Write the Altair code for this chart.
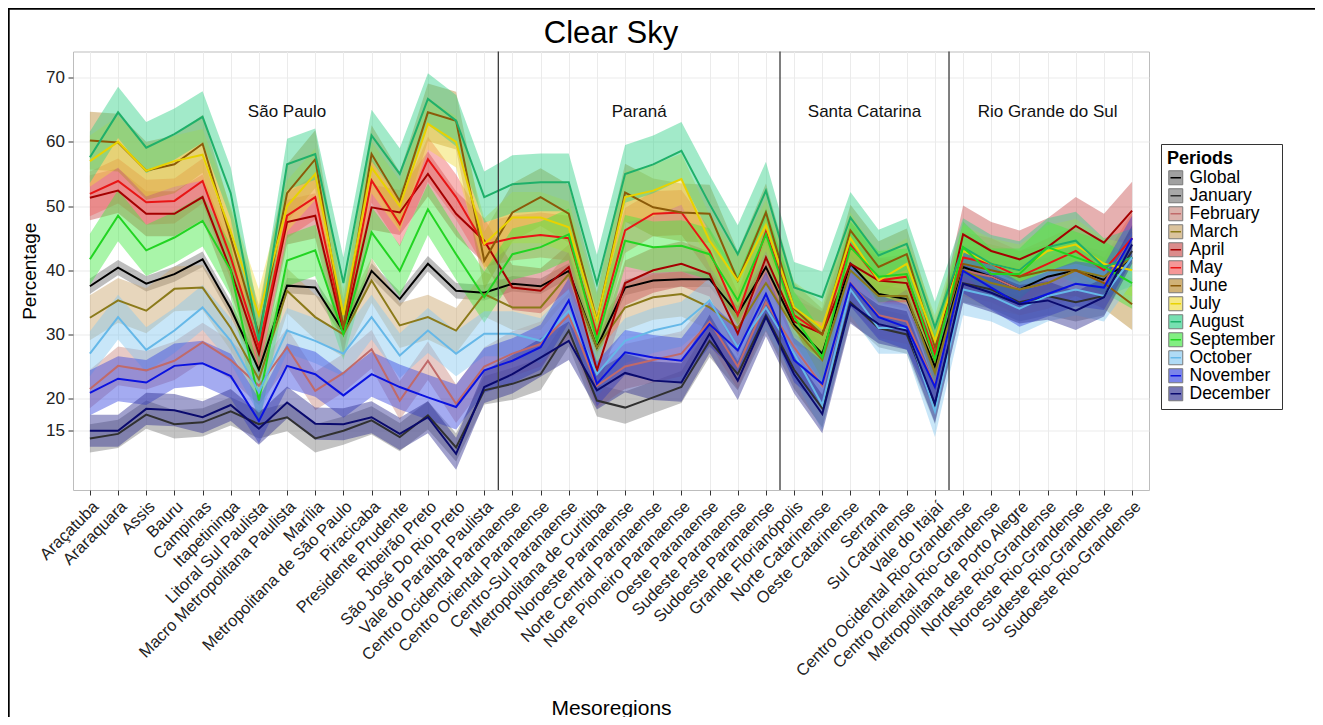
import json
import altair as alt
import pandas as pd

FONT = "Liberation Sans"

mesoregions = [
    "Araçatuba", "Araraquara", "Assis", "Bauru", "Campinas", "Itapetininga",
    "Litoral Sul Paulista", "Macro Metropolitana Paulista", "Marília",
    "Metropolitana de São Paulo", "Piracicaba", "Presidente Prudente",
    "Ribeirão Preto", "São José Do Rio Preto", "Vale do Paraíba Paulista",
    "Centro Ocidental Paranaense", "Centro Oriental Paranaense", "Centro-Sul Paranaense",
    "Metropolitana de Curitiba", "Noroeste Paranaense", "Norte Central Paranaense",
    "Norte Pioneiro Paranaense", "Oeste Paranaense", "Sudeste Paranaense", "Sudoeste Paranaense",
    "Grande Florianópolis", "Norte Catarinense", "Oeste Catarinense", "Serrana",
    "Sul Catarinense", "Vale do Itajaí",
    "Centro Ocidental Rio-Grandense", "Centro Oriental Rio-Grandense",
    "Metropolitana de Porto Alegre", "Nordeste Rio-Grandense", "Noroeste Rio-Grandense",
    "Sudeste Rio-Grandense", "Sudoeste Rio-Grandense",
]

chart_title = "Clear Sky"
state_names = ["São Paulo", "Paraná", "Santa Catarina", "Rio Grande do Sul"]
state_sizes = [15, 10, 6, 7]
state_label_x = [7.0, 19.5, 27.5, 34.0]
state_label_y = [64.7, 64.7, 64.7, 64.7]
state_bounds = [14.5, 24.5, 30.5]
y_ticks = [15, 20, 30, 40, 50, 60, 70]

periods = ["Global", "January", "February", "March", "April", "May", "June",
           "July", "August", "September", "October", "November", "December"]
line_colors = ["#000000", "#303030", "#C06A6A", "#8B7A1A", "#A50000", "#E81515", "#8B5A08",
               "#E8D200", "#1FB06A", "#22D422", "#66B8E8", "#0A12E0", "#0A0A6E"]
fill_colors = ["#6E6E6E", "#7A7A7A", "#C98A80", "#C9A46A", "#C85050", "#F06060", "#B88A30",
               "#F0DC40", "#30D088", "#40E840", "#86C8F0", "#3545E0", "#2E2E90"]

global_ = [37.5, 40.4, 37.9, 39.4, 41.7, 34.0, 24.5, 37.6, 37.3, 30.5, 39.9, 35.5, 41.0, 36.8, 36.5,
           37.9, 37.5, 39.9, 28.0, 37.3, 38.4, 38.6, 38.6, 33.2, 40.5,
           31.5, 27.0, 41.0, 36.3, 35.5, 25.0,
           40.5, 39.0, 37.0, 39.0, 40.0, 38.5, 42.0]
january = [13.8, 14.5, 17.5, 16.0, 16.3, 18.0, 16.0, 17.1, 13.8, 15.0, 16.6, 14.0, 17.4, 12.4, 21.3,
           22.3, 23.8, 30.6, 19.7, 18.6, 20.2, 21.8, 29.0, 23.8, 33.0,
           24.5, 18.5, 35.0, 31.0, 30.0, 19.0,
           38.0, 37.0, 35.0, 36.0, 35.0, 36.0, 43.0]
february = [21.5, 25.1, 24.4, 25.9, 28.8, 26.0, 22.0, 28.0, 21.2, 24.0, 27.7, 19.7, 25.9, 19.2, 25.0,
            27.0, 28.5, 33.0, 22.0, 25.0, 26.0, 27.0, 32.0, 25.0, 35.0,
            28.0, 22.0, 38.0, 33.0, 32.0, 22.0,
            40.0, 39.0, 37.0, 38.0, 40.0, 38.0, 45.0]
march = [32.6, 35.3, 33.7, 37.1, 37.3, 31.0, 23.0, 36.8, 32.7, 30.0, 38.4, 31.4, 32.7, 30.6, 36.3,
         34.2, 34.2, 39.4, 28.0, 34.2, 35.8, 36.3, 34.2, 31.0, 38.0,
         31.0, 26.0, 40.0, 36.0, 36.0, 24.0,
         40.0, 38.0, 37.0, 38.0, 40.0, 39.0, 42.0]
april = [51.3, 52.4, 48.8, 48.8, 51.4, 40.0, 27.0, 47.5, 48.5, 30.5, 49.8, 49.0, 55.0, 48.8, 44.6,
         37.3, 36.8, 40.5, 24.4, 38.0, 40.0, 41.0, 39.4, 30.1, 42.0,
         32.0, 30.1, 41.0, 38.4, 38.0, 26.0,
         45.6, 43.0, 41.7, 43.6, 46.9, 44.3, 49.3]
may = [51.9, 53.9, 50.6, 50.8, 53.9, 42.0, 28.0, 48.5, 51.4, 31.0, 54.0, 47.2, 57.3, 51.4, 44.0,
       45.0, 45.5, 45.0, 30.0, 46.2, 48.8, 49.0, 43.0, 33.0, 46.0,
       33.0, 30.0, 44.0, 38.4, 39.0, 27.0,
       42.0, 41.0, 39.0, 41.0, 43.0, 40.0, 45.0]
june = [60.2, 59.9, 55.5, 56.5, 59.7, 45.0, 30.0, 52.0, 57.3, 31.0, 58.1, 50.8, 64.6, 63.3, 41.5,
        49.0, 51.4, 48.8, 32.1, 52.1, 49.8, 49.0, 48.8, 38.4, 49.0,
        34.0, 30.0, 46.2, 40.5, 42.5, 28.0,
        41.0, 40.0, 39.0, 40.0, 40.0, 38.0, 34.7]
july = [57.0, 60.0, 55.5, 57.0, 58.0, 46.0, 33.0, 50.0, 55.0, 33.0, 56.0, 50.0, 62.8, 60.0, 44.1,
        48.2, 48.2, 46.7, 32.1, 51.4, 52.4, 54.2, 44.6, 38.4, 47.0,
        34.2, 31.0, 45.0, 38.4, 41.0, 29.0,
        43.0, 41.0, 40.0, 43.0, 44.0, 41.0, 40.0]
august = [57.6, 64.6, 59.1, 61.2, 63.9, 52.0, 29.0, 56.5, 58.1, 38.0, 61.0, 55.0, 66.7, 63.3, 51.4,
          53.4, 53.7, 53.7, 37.9, 55.0, 56.5, 58.6, 50.3, 42.5, 52.4,
          37.3, 35.8, 48.2, 42.3, 44.1, 31.1,
          43.6, 41.0, 40.0, 43.6, 44.6, 40.5, 42.0]
september = [41.7, 48.5, 43.1, 45.1, 47.7, 40.0, 19.7, 41.5, 43.1, 30.0, 45.9, 39.9, 49.5, 42.5, 35.8,
             42.5, 43.6, 45.6, 29.0, 44.6, 43.6, 43.8, 42.5, 35.3, 45.6,
             32.7, 26.4, 43.6, 39.0, 39.4, 26.0,
             43.6, 39.4, 39.4, 43.6, 42.0, 40.5, 38.0]
october = [27.0, 32.7, 27.6, 30.6, 34.2, 29.0, 21.0, 30.6, 29.0, 27.0, 32.7, 26.7, 30.6, 27.0, 30.1,
           30.1, 29.0, 33.7, 23.8, 29.0, 30.6, 31.6, 35.3, 28.0, 34.2,
           27.0, 19.0, 37.0, 31.0, 31.0, 18.0,
           37.0, 36.0, 34.0, 36.0, 37.0, 36.0, 42.0]
november = [20.9, 23.1, 22.5, 25.1, 25.5, 23.5, 16.5, 25.1, 23.8, 20.5, 23.8, 21.8, 20.2, 18.7, 24.4,
            25.9, 28.0, 35.3, 22.3, 27.2, 26.4, 25.9, 31.6, 27.5, 36.3,
            26.0, 22.3, 37.9, 32.7, 31.1, 21.8,
            39.9, 37.3, 34.7, 36.3, 37.9, 37.3, 45.0]
december = [15.0, 15.0, 18.4, 18.2, 17.1, 19.0, 15.3, 19.4, 16.1, 16.0, 17.1, 14.5, 17.1, 11.4, 21.8,
            23.8, 26.4, 29.0, 21.3, 24.0, 22.8, 22.5, 30.1, 22.8, 32.7,
            23.8, 17.6, 34.7, 31.6, 30.6, 19.2,
            37.9, 36.5, 34.7, 35.3, 33.7, 35.8, 44.0]

means = [global_, january, february, march, april, may, june, july, august,
         september, october, november, december]

# half-width of each ribbon, per state (SP, PR, SC, RS)
half_width = {
    "Global": [1.2, 1.2, 1.5, 2.0], "January": [2.2, 2.5, 3.0, 3.0],
    "February": [3.0, 3.5, 3.5, 4.0], "March": [3.5, 3.5, 3.5, 4.0],
    "April": [3.5, 3.5, 3.5, 4.5], "May": [3.5, 3.5, 3.5, 4.0],
    "June": [4.5, 4.5, 4.0, 4.0], "July": [4.0, 4.0, 4.0, 4.0],
    "August": [4.0, 4.5, 4.0, 4.5], "September": [4.0, 4.0, 4.0, 4.0],
    "October": [3.5, 3.5, 4.0, 4.0], "November": [3.5, 3.5, 3.5, 3.5],
    "December": [2.5, 3.0, 3.0, 3.0],
}

state_of = []
for s, n in enumerate(state_sizes):
    state_of += [s] * n

rows = []
for p, vals in zip(periods, means):
    for i, v in enumerate(vals):
        hw = half_width[p][state_of[i]]
        rows.append({"Period": p, "PeriodL": p, "idx": i, "mean": v,
                     "lo": v - hw, "hi": v + hw})
df = pd.DataFrame(rows)

W, H = 1076, 438.5
xscale = alt.Scale(domain=[-0.6, 37.6], nice=False, zero=False)
yscale = alt.Scale(domain=[5.76, 74.08], nice=False, zero=False)
label_expr = json.dumps(mesoregions, ensure_ascii=False) + "[datum.value]"

xaxis = alt.Axis(values=list(range(len(mesoregions))), labelExpr=label_expr,
                 labelAngle=-45, labelAlign="right", labelBaseline="top",
                 labelFontSize=16.5, labelLimit=400, labelOverlap=False, labelFlush=False,
                 labelColor="#222222", labelPadding=3, labelFont=FONT,
                 title="Mesoregions", titleFontSize=21, titleFontWeight="normal",
                 titleFont=FONT, titleColor="black", titleY=224, titleBaseline="alphabetic",
                 grid=True, gridColor="#EBEBEB", tickColor="#333333", tickSize=5, domain=False)
yaxis = alt.Axis(values=y_ticks, labelFontSize=17, labelColor="#222222", labelFont=FONT,
                 labelPadding=3.5, title="Percentage", titleFontSize=19,
                 titleFontWeight="normal", titleFont=FONT, titleColor="black", titlePadding=6,
                 grid=True, gridColor="#EBEBEB", tickColor="#333333", tickSize=5, domain=False)

LX, LY = 1088, 92.5
SYM = 196
fill_legend = alt.Legend(title="Periods", orient="none", legendX=LX, legendY=LY,
                         titleFont=FONT, titleFontSize=18, titleFontWeight="bold",
                         titleColor="black", titlePadding=1, labelFont=FONT,
                         labelFontSize=17.5, labelColor="black", labelOffset=5,
                         symbolType="square", symbolSize=SYM, symbolStrokeColor="#333333",
                         symbolStrokeWidth=1, symbolOpacity=0.65, strokeColor="#333333",
                         padding=6, rowPadding=-3, cornerRadius=0)
line_legend = alt.Legend(title=" ", orient="none", legendX=LX, legendY=LY,
                         titleFont=FONT, titleFontSize=18, titleFontWeight="bold",
                         titlePadding=1, labelFont=FONT, labelExpr="''",
                         labelFontSize=17.5, labelOffset=5,
                         symbolType="M-0.75,0L0.75,0", symbolSize=SYM,
                         symbolStrokeWidth=1.5, symbolFillColor="transparent",
                         symbolOpacity=1, padding=6, rowPadding=-3)

areas = alt.Chart(df).mark_area(opacity=0.45).encode(
    x=alt.X("idx:Q", scale=xscale, axis=xaxis),
    y=alt.Y("lo:Q", scale=yscale, axis=yaxis),
    y2="hi:Q",
    fill=alt.Fill("Period:N", scale=alt.Scale(domain=periods, range=fill_colors),
                  legend=fill_legend),
)

lines = alt.Chart(df).mark_line(strokeWidth=2).encode(
    x=alt.X("idx:Q", scale=xscale, axis=xaxis),
    y=alt.Y("mean:Q", scale=yscale, axis=yaxis),
    stroke=alt.Stroke("PeriodL:N", sort=periods, scale=alt.Scale(range=line_colors),
                      legend=line_legend),
)

bounds = alt.Chart(pd.DataFrame({"b": state_bounds})).mark_rule(
    color="#3a3a3a", strokeWidth=1.3).encode(
    x=alt.X("b:Q", scale=xscale, axis=xaxis))

labels = alt.Chart(pd.DataFrame({"name": state_names, "x": state_label_x,
                                 "y": state_label_y})).mark_text(
    font=FONT, fontSize=17, color="#111111", baseline="middle").encode(
    x=alt.X("x:Q", scale=xscale, axis=xaxis),
    y=alt.Y("y:Q", scale=yscale, axis=yaxis),
    text="name:N")

title_mark = alt.Chart(pd.DataFrame({"t": [chart_title]})).mark_text(
    font=FONT, fontSize=31, color="black", baseline="alphabetic", align="center").encode(
    x=alt.value(W / 2), y=alt.value(-8.5), text="t:N")

frame_top = alt.Chart(pd.DataFrame({"a": [0]})).mark_rule(
    color="black", strokeWidth=2).encode(
    x=alt.value(-65), x2=alt.value(1250), y=alt.value(-42.7))
frame_left = alt.Chart(pd.DataFrame({"a": [0]})).mark_rule(
    color="black", strokeWidth=2).encode(
    x=alt.value(-64.3), y=alt.value(-43.5), y2=alt.value(700))

chart = alt.layer(areas, lines, bounds, labels, title_mark, frame_top, frame_left).properties(
    width=W, height=H,
    autosize=alt.AutoSizeParams(type="none"),
    padding={"left": 65, "top": 43.5, "right": 166, "bottom": 227},
).configure_view(stroke="#BDBDBD", strokeWidth=1)

chart.save("out.html", embed_options={"renderer": "svg", "actions": False})
